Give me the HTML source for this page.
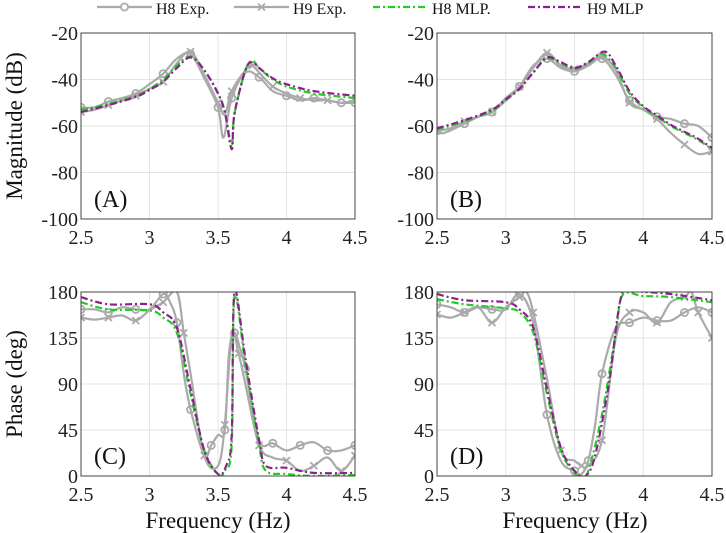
<!DOCTYPE html>
<html><head><meta charset="utf-8">
<style>
html,body{margin:0;padding:0;background:#fff;}
svg{display:block;font-family:"Liberation Serif","DejaVu Serif",serif;}
</style></head>
<body>
<svg id="chart" width="726" height="533" viewBox="0 0 726 533"></svg>
<script>
// ---------- DATA ----------
const magA_h8exp_x=[2.5,2.6,2.7,2.8,2.9,3.0,3.1,3.2,3.3,3.4,3.5,3.54,3.6,3.7,3.8,3.9,4.0,4.1,4.2,4.3,4.4,4.5];
const magA_h8exp_y=[-52,-52,-49.5,-48,-46,-42,-37.5,-31,-29,-39.5,-52,-65,-48,-37,-39,-45,-47,-49,-48,-49,-50,-50];
const magA_h9exp_x=[2.5,2.6,2.7,2.8,2.9,3.0,3.1,3.2,3.3,3.4,3.5,3.55,3.6,3.7,3.75,3.8,3.9,4.0,4.1,4.2,4.3,4.4,4.5];
const magA_h9exp_y=[-54,-53,-51,-49,-47,-44,-41,-33,-28,-38,-50,-55,-45,-36,-34,-37,-43,-46,-48,-49,-49,-50,-49];
const magA_h8mlp_x=[2.5,2.7,2.9,3.0,3.1,3.2,3.3,3.4,3.5,3.55,3.6,3.62,3.7,3.75,3.8,3.9,4.0,4.2,4.5];
const magA_h8mlp_y=[-53,-50.5,-47,-44,-40,-34,-30,-36,-46,-54,-68,-55,-36,-32,-35,-40,-43,-46,-48];
const magA_h9mlp_x=[2.5,2.7,2.9,3.0,3.1,3.2,3.3,3.4,3.5,3.55,3.6,3.62,3.7,3.75,3.8,3.9,4.0,4.2,4.5];
const magA_h9mlp_y=[-54,-51,-47.5,-44.5,-41,-35,-30.5,-36,-46,-54,-70,-55,-36,-32.5,-35,-39.5,-42,-45,-47];

const magB_h8exp_x=[2.5,2.55,2.7,2.8,2.9,3.0,3.1,3.2,3.3,3.4,3.5,3.6,3.7,3.8,3.9,4.0,4.1,4.2,4.3,4.4,4.5];
const magB_h8exp_y=[-62,-63,-59,-56,-54,-49,-43,-34,-31,-35,-36.5,-34,-31,-38,-49,-53,-56,-57,-59,-60,-65];
const magB_h9exp_x=[2.5,2.6,2.7,2.8,2.9,3.0,3.1,3.2,3.3,3.4,3.5,3.6,3.7,3.8,3.9,4.0,4.1,4.2,4.3,4.4,4.5];
const magB_h9exp_y=[-62,-61,-58,-56,-54,-48,-43,-35,-28.5,-34,-35.5,-33,-30,-36,-50,-53,-57,-63,-68,-72,-71];
const magB_h8mlp_x=[2.5,2.7,2.9,3.0,3.1,3.2,3.3,3.4,3.5,3.6,3.7,3.8,3.9,4.0,4.1,4.2,4.3,4.4,4.5];
const magB_h8mlp_y=[-61.5,-58,-53.5,-49,-44,-37,-31,-33,-35.5,-33,-29,-35,-46,-52,-56,-60,-63,-66,-70];
const magB_h9mlp_x=[2.5,2.7,2.9,3.0,3.1,3.2,3.3,3.4,3.5,3.6,3.72,3.8,3.9,4.0,4.1,4.2,4.3,4.4,4.5];
const magB_h9mlp_y=[-61,-57.5,-53,-48.5,-44,-37,-30.5,-32.5,-35,-32.5,-28,-34,-45,-51.5,-55.5,-59.5,-62.5,-65.5,-69.5];

const phC_h8exp_x=[2.5,2.6,2.7,2.8,2.9,3.0,3.1,3.15,3.2,3.25,3.3,3.4,3.45,3.5,3.55,3.58,3.62,3.66,3.7,3.8,3.9,4.0,4.1,4.2,4.3,4.4,4.5];
const phC_h8exp_y=[163,163,160,165,163,163,178,170,150,100,65,20,30,40,45,120,140,125,105,35,32,25,30,33,25,25,30];
const phC_h9exp_x=[2.5,2.6,2.7,2.8,2.9,3.0,3.1,3.2,3.25,3.3,3.4,3.5,3.55,3.6,3.65,3.7,3.8,3.9,4.0,4.1,4.2,4.3,4.4,4.5];
const phC_h9exp_y=[155,153,155,157,152,162,170,180,140,100,20,10,50,138,120,90,30,18,15,5,10,18,5,20];
const phC_h8mlp_x=[2.5,2.7,3.0,3.1,3.2,3.3,3.4,3.5,3.55,3.6,3.62,3.7,3.8,3.85,4.0,4.2,4.5];
const phC_h8mlp_y=[170,163,162,155,140,80,25,2,5,30,175,110,30,5,2,0,1];
const phC_h9mlp_x=[2.5,2.7,3.0,3.1,3.2,3.3,3.4,3.5,3.56,3.6,3.62,3.7,3.8,3.85,4.0,4.2,4.5];
const phC_h9mlp_y=[175,168,168,160,145,85,25,2,10,40,180,115,35,10,8,3,3];

const phD_h8exp_x=[2.5,2.6,2.7,2.8,2.9,3.0,3.1,3.2,3.3,3.4,3.5,3.55,3.6,3.65,3.7,3.8,3.9,4.0,4.1,4.2,4.3,4.4,4.5];
const phD_h8exp_y=[168,165,160,165,163,163,178,150,60,15,5,2,15,50,100,145,150,155,152,152,160,165,160];
const phD_h9exp_x=[2.5,2.6,2.7,2.8,2.9,3.0,3.1,3.15,3.2,3.3,3.4,3.5,3.55,3.6,3.7,3.8,3.9,4.0,4.1,4.2,4.3,4.35,4.4,4.5];
const phD_h9exp_y=[158,155,160,165,150,165,175,180,160,95,25,15,10,10,35,135,160,160,150,170,175,180,160,135];
const phD_h8mlp_x=[2.5,2.7,3.0,3.1,3.2,3.3,3.4,3.5,3.55,3.6,3.7,3.8,3.85,4.0,4.2,4.5];
const phD_h8mlp_y=[173,168,164,160,140,80,25,3,0,5,60,140,177,176,175,170];
const phD_h9mlp_x=[2.5,2.7,3.0,3.1,3.2,3.3,3.4,3.5,3.58,3.65,3.75,3.85,4.0,4.2,4.5];
const phD_h9mlp_y=[178,172,170,163,145,85,28,5,0,20,90,180,180,178,172];

const xTicks=[2.5,3,3.5,4,4.5];
const xTickLabels=["2.5","3","3.5","4","4.5"];
const magTicks=[-20,-40,-60,-80,-100];
const phTicks=[180,135,90,45,0];
const legendLabels=["H8 Exp.","H9 Exp.","H8 MLP.","H9 MLP"];

// ---------- RENDER ----------
const NS="http://www.w3.org/2000/svg";
const svg=document.getElementById('chart');
function mk(tag,attrs,parent){const e=document.createElementNS(NS,tag);for(const k in attrs)e.setAttribute(k,attrs[k]);(parent||svg).appendChild(e);return e;}
const GRAY="#aaaaaa",GREEN="#22cc22",PURPLE="#8e1f8e";

function smoothPath(pts){
  let d="M"+pts[0][0].toFixed(1)+","+pts[0][1].toFixed(1);
  for(let i=0;i<pts.length-1;i++){
    const p0=pts[i-1]||pts[i],p1=pts[i],p2=pts[i+1],p3=pts[i+2]||p2;
    const c1=[p1[0]+(p2[0]-p0[0])/6,p1[1]+(p2[1]-p0[1])/6];
    const c2=[p2[0]-(p3[0]-p1[0])/6,p2[1]-(p3[1]-p1[1])/6];
    d+="C"+c1.map(v=>v.toFixed(1))+" "+c2.map(v=>v.toFixed(1))+" "+p2[0].toFixed(1)+","+p2[1].toFixed(1);
  }
  return d;
}

const panels=[
 {id:"a",L:81,R:355,T:33,B:219,ymin:-100,ymax:-20,ticks:magTicks,label:"(A)",series:[[magA_h8exp_x,magA_h8exp_y],[magA_h9exp_x,magA_h9exp_y],[magA_h8mlp_x,magA_h8mlp_y],[magA_h9mlp_x,magA_h9mlp_y]]},
 {id:"b",L:437,R:712,T:33,B:219,ymin:-100,ymax:-20,ticks:magTicks,label:"(B)",series:[[magB_h8exp_x,magB_h8exp_y],[magB_h9exp_x,magB_h9exp_y],[magB_h8mlp_x,magB_h8mlp_y],[magB_h9mlp_x,magB_h9mlp_y]]},
 {id:"c",L:81,R:355,T:292,B:476,ymin:0,ymax:180,ticks:phTicks,label:"(C)",series:[[phC_h8exp_x,phC_h8exp_y],[phC_h9exp_x,phC_h9exp_y],[phC_h8mlp_x,phC_h8mlp_y],[phC_h9mlp_x,phC_h9mlp_y]]},
 {id:"d",L:437,R:712,T:292,B:476,ymin:0,ymax:180,ticks:phTicks,label:"(D)",series:[[phD_h8exp_x,phD_h8exp_y],[phD_h9exp_x,phD_h9exp_y],[phD_h8mlp_x,phD_h8mlp_y],[phD_h9mlp_x,phD_h9mlp_y]]}
];
const seriesNames=["h8-exp","h9-exp","h8-mlp","h9-mlp"];
const styles=[
 {stroke:GRAY,dash:null,marker:"o"},
 {stroke:GRAY,dash:null,marker:"x"},
 {stroke:GREEN,dash:"7,3,2,3",marker:null},
 {stroke:PURPLE,dash:"7,3,2,3",marker:null}
];

panels.forEach(p=>{
  const g=mk('g',{});
  
  
  const xs=v=>p.L+(v-2.5)/2*(p.R-p.L);
  const ys=v=>p.B-(v-p.ymin)/(p.ymax-p.ymin)*(p.B-p.T);
  const clip=mk('clipPath',{id:'clip-'+p.id},g);
  mk('rect',{x:p.L,y:p.T,width:p.R-p.L,height:p.B-p.T},clip);
  xTicks.forEach((t,i)=>{
    const gl=mk('line',{x1:xs(t),x2:xs(t),y1:p.T,y2:p.B,stroke:"#e3e3e3","stroke-width":1},g);
    
    
    const tl=mk('text',{x:xs(t),y:p.B+25,"text-anchor":"middle","font-size":20,fill:"#222"},g);
    tl.textContent=xTickLabels[i];
    
    
  });
  p.ticks.forEach(t=>{
    const gl=mk('line',{x1:p.L,x2:p.R,y1:ys(t),y2:ys(t),stroke:"#e3e3e3","stroke-width":1},g);
    
    
    const tl=mk('text',{x:p.L-3,y:ys(t)+7,"text-anchor":"end","font-size":20,fill:"#222"},g);
    tl.textContent=String(t);
    
    
  });
  const sg=mk('g',{"clip-path":"url(#clip-"+p.id+")"},g);
  p.series.forEach((s,si)=>{
    const st=styles[si];
    const pts=s[0].map((x,i)=>[xs(x),ys(s[1][i])]);
    const path=mk('path',{d:smoothPath(pts),fill:"none",stroke:st.stroke,"stroke-width":2.2,"stroke-linejoin":"round"},sg);
    if(st.dash)path.setAttribute('stroke-dasharray',st.dash);
    
    
    if(st.marker){
      pts.forEach((pt,i)=>{
        if(i%2!==0 && i!==pts.length-1) return;
        let m;
        if(st.marker==="o") m=mk('circle',{cx:pt[0],cy:pt[1],r:3.6,fill:"none",stroke:GRAY,"stroke-width":1.8},sg);
        else m=mk('path',{d:`M${pt[0]-3.5},${pt[1]-3.5}L${pt[0]+3.5},${pt[1]+3.5}M${pt[0]-3.5},${pt[1]+3.5}L${pt[0]+3.5},${pt[1]-3.5}`,stroke:GRAY,"stroke-width":1.8},sg);
        
        
      });
    }
  });
  const frame=mk('rect',{x:p.L,y:p.T,width:p.R-p.L,height:p.B-p.T,fill:"none",stroke:"#444","stroke-width":1},g);
  
  
  const lab=mk('text',{x:p.L+13,y:p.B-12,"font-size":24,fill:"#111"},g);
  lab.textContent=p.label;
  
  
});

function title(txt,x,y,rot,name){
  const t=mk('text',{x:x,y:y,"text-anchor":"middle","font-size":23,fill:"#111"});
  if(rot)t.setAttribute('transform',`rotate(-90 ${x} ${y})`);
  t.textContent=txt;
  
  
}
title("Magnitude (dB)",22,126,true,"y-axis-title-magnitude");
title("Phase (deg)",22,384,true,"y-axis-title-phase");
title("Frequency (Hz)",218,528,false,"x-axis-title-left");
title("Frequency (Hz)",575,528,false,"x-axis-title-right");

const lg=mk('g',{});


const legX=[97,234,373,528];
legendLabels.forEach((lab,i)=>{
  const e=mk('g',{},lg);
  
  
  const st=styles[i];
  const ln=mk('line',{x1:legX[i],x2:legX[i]+55,y1:7,y2:7,stroke:st.stroke,"stroke-width":2.2},e);
  if(st.dash)ln.setAttribute('stroke-dasharray',st.dash);
  const cx=legX[i]+27.5;
  if(st.marker==="o")mk('circle',{cx:cx,cy:7,r:3.6,fill:"#fff",stroke:GRAY,"stroke-width":1.8},e);
  if(st.marker==="x")mk('path',{d:`M${cx-3.5},3.5L${cx+3.5},10.5M${cx-3.5},10.5L${cx+3.5},3.5`,stroke:GRAY,"stroke-width":1.8},e);
  const t=mk('text',{x:legX[i]+59,y:14,"font-size":16,fill:"#111"},e);
  t.textContent=lab;
});
</script>
</body></html>
